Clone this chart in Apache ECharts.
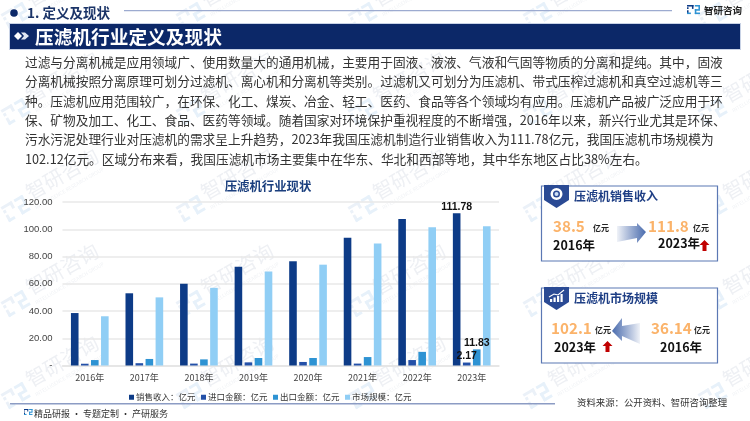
<!DOCTYPE html>
<html><head><meta charset="utf-8">
<style>html,body{margin:0;padding:0;background:#fff}#c{width:750px;height:421px}</style>
<script src="https://cdn.jsdelivr.net/npm/echarts@6/dist/echarts.min.js"></script>
</head><body><div id="c"></div>
<script>
const categories=['2016年','2017年','2018年','2019年','2020年','2021年','2022年','2023年'];
const salesRevenue=[38.5,53,60,72.5,76.5,93.8,107.5,111.78];
const importAmount=[1.3,1.7,1.4,2.3,2.6,1.4,4,2.17];
const exportAmount=[4,4.8,4.5,5.5,5.5,6.2,10,11.83];
const marketSize=[36.14,50,57,69,74,89.5,101.5,102.12];
const seriesNames=['销售收入：亿元','进口金额：亿元','出口金额：亿元','市场规模：亿元'];
const seriesColors=['#0d3b87','#2350a8','#2e93d3','#90cef5'];
const bodyLines=[
'过滤与分离机械是应用领域广、使用数量大的通用机械，主要用于固液、液液、气液和气固等物质的分离和提纯。其中，固液',
'分离机械按照分离原理可划分过滤机、离心机和分离机等类别。过滤机又可划分为压滤机、带式压榨过滤机和真空过滤机等三',
'种。压滤机应用范围较广，在环保、化工、煤炭、冶金、轻工、医药、食品等各个领域均有应用。压滤机产品被广泛应用于环',
'保、矿物及加工、化工、食品、医药等领域。随着国家对环境保护重视程度的不断增强，2016年以来，新兴行业尤其是环保、',
'污水污泥处理行业对压滤机的需求呈上升趋势，2023年我国压滤机制造行业销售收入为111.78亿元，我国压滤机市场规模为',
'102.12亿元。区域分布来看，我国压滤机市场主要集中在华东、华北和西部等地，其中华东地区占比38%左右。'];
const F='"Noto Sans CJK SC","Noto Sans",sans-serif';
const g=[];
function T(x,y,s,size,color,weight,align,extra){g.push(Object.assign({type:'text',x,y,silent:true,style:{text:s,font:(weight||'normal')+' '+size+'px '+F,fill:color,textAlign:align||'left',textVerticalAlign:'middle'}},extra||{}));}
function R(x,y,w,h,fill,stroke,lw,z){g.push({type:'rect',shape:{x,y,width:w,height:h},silent:true,z:z||0,style:{fill:fill||'none',stroke:stroke||null,lineWidth:lw||0}});}
function P(points,fill,z){g.push({type:'polygon',shape:{points},silent:true,z:z||1,style:{fill}});}
function logoChildren(s,c1,c2){
  const b=(x,y,w,h,f)=>({type:'rect',shape:{x:x*s,y:y*s,width:w*s,height:h*s},style:{fill:f}});
  return [b(0,0,5,1.2,c1),b(3.8,0,1.2,3,c1),b(0,1.8,1.2,1.2,c1),b(0,4,1.2,3,c1),b(0,5.8,3,1.2,c2),
          b(6,0,4,1.2,c2),b(8.8,0,1.2,3.4,c2),b(6,3.2,4,1.2,c2),b(6,3.2,1.2,3.8,c2),b(6,5.8,4,1.2,c2)];
}
// watermark tiles: logo anchors on a regular grid
const wmColumns=[5,180,352,527,702];
const wmRows=[22,118,215,310,402];
wmRows.forEach(y=>wmColumns.forEach(x=>{
  g.push({type:'group',x,y,rotation:Math.PI/6,silent:true,z:-1,children:[
    {type:'group',x:0,y:-9,children:logoChildren(2.5,'#ebf1f8','#e7f1fa')},
    {type:'text',x:30,y:-7,style:{text:'智研咨询',font:'normal 20px '+F,fill:'#eef0f4',textVerticalAlign:'middle'}},
    {type:'text',x:30,y:9,style:{text:'INTELLIGENCE RESEARCH GROUP',font:'normal 5px '+F,fill:'#f0f2f5',textVerticalAlign:'middle'}}
  ]});
}));
// header
g.push({type:'circle',shape:{cx:14,cy:13,r:3.8},silent:true,style:{fill:'#0c2868'}});
T(27,13,'1. 定义及现状',13.5,'#1b3468','bold');
R(124,10,548,1.3,'#9dabd0');
g.push({type:'group',x:687,y:5,silent:true,children:logoChildren(1.3,'#0d3b87','#2e93d3')});
T(723,10.5,'智研咨询',9.5,'#222','bold','center');
R(9.5,23.5,731,26,'#0c2868','#c9d3e6',1);
P([[14,36],[18,32],[22,36],[18,40]],'#fff');P([[21,32.5],[25,32.5],[29,36],[25,39.5],[21,39.5],[24,36]],'#dfe6f2');
T(35,36.5,'压滤机行业定义及现状',18.7,'#fff','bold');
// body
bodyLines.forEach((s,i)=>T(25,62+i*19.4,s,12.7,'#333'));
// panels
function panel(y,title){
  R(541.5,y,176,75,'#fff','#5b78b4',1.2,1);
  P([[544,y-1],[569,y-1],[569,y+14],[556.5,y+22],[544,y+14]],'#2a4a94',2);
  T(574,y+10.5,title,12,'#1f3f85','bold','left',{z:3});
}
panel(186,'压滤机销售收入');panel(288,'压滤机市场规模');
g.push({type:'ring',shape:{cx:556.5,cy:194,r:6,r0:3.5},silent:true,z:3,style:{fill:'#fff'}});
g.push({type:'circle',shape:{cx:556.5,cy:194,r:2},silent:true,z:3,style:{fill:'#cfe0f5'}});
[[550,299,2.2,3],[553.5,297.5,2.2,4.5],[557,296,2.2,6],[560.5,294,2.2,8]].forEach(a=>{g.push({type:'rect',shape:{x:a[0],y:a[1],width:a[2],height:a[3]},silent:true,z:3,style:{fill:'#fff'}});});
g.push({type:'polyline',shape:{points:[[549,297],[554,294],[558,295],[564,290]]},silent:true,z:3,style:{stroke:'#fff',lineWidth:1.1,fill:'none'}});
const OR='#fbb36a';
function vals(x,y,s){T(x,y,s,15.2,OR,'bold','left',{z:3});}
function unit(x,y){T(x,y,'亿元',8,'#222','bold','left',{z:3});}
function yr(x,y,s){T(x,y,s,12.5,'#111','bold','left',{z:3});}
vals(553,226,'38.5');unit(593,228);yr(553,245,'2016年');
vals(648,226,'111.8');unit(693,228);yr(658,243,'2023年');
vals(551,328,'102.1');unit(595,330);yr(554,347,'2023年');
vals(651,328,'36.14');unit(694,330);yr(660,347,'2016年');
const gradR={type:'linear',x:0,y:0,x2:1,y2:0,colorStops:[{offset:0,color:'rgba(60,95,165,0.08)'},{offset:1,color:'#4a6cae'}]};
const gradL={type:'linear',x:1,y:0,x2:0,y2:0,colorStops:[{offset:0,color:'rgba(60,95,165,0.08)'},{offset:1,color:'#4a6cae'}]};
P([[617,226],[637,226],[637,223],[646,232],[637,243],[637,238],[617,242]],gradR,3);
P([[640,323],[622,326],[622,318],[612,331],[622,341],[622,336],[640,344]],gradL,3);
const red='#c00000';
function up(x,y){P([[x,y+5],[x+5,y],[x+10,y+5],[x+7,y+5],[x+7,y+11],[x+3,y+11],[x+3,y+5]],red,3);}
up(699.5,240);up(602.5,341);
// footer
R(10,403,545,1.5,'#8c9cc4');
g.push({type:'group',x:24,y:409,silent:true,children:logoChildren(0.85,'#0d3b87','#2e93d3')});
T(34,414,'精品研报 · 专题定制 · 产研服务',9,'#333');
T(577,402,'资料来源：公开资料、智研咨询整理',9.4,'#333');

const lastLabel=()=>({show:true,position:'top',distance:1,fontFamily:'Liberation Sans,Arial,sans-serif',fontSize:10.5,fontWeight:'bold',color:'#111',
  formatter:p=>p.dataIndex===categories.length-1?p.value.toFixed(2):''});
const chart=echarts.init(document.getElementById('c'),null,{renderer:'canvas'});
chart.setOption({
  animation:false,backgroundColor:'#fff',
  title:{text:'压滤机行业现状',left:263,top:175,textAlign:'center',textStyle:{fontFamily:F,fontSize:12.4,fontWeight:'bold',color:'#1b3f7e'}},
  grid:{left:62.5,right:251,top:202,height:163.5,containLabel:false},
  legend:{top:388,left:124,itemWidth:5,itemHeight:5,itemGap:5.5,icon:'rect',textStyle:{fontFamily:F,fontSize:8.5,color:'#333',padding:[0,0,0,-3]}},
  xAxis:{type:'category',data:categories,axisLine:{lineStyle:{color:'#e3e3e3',width:1.5}},axisTick:{show:false},axisLabel:{fontFamily:F,fontSize:9,color:'#444',margin:8}},
  yAxis:{type:'value',min:0,max:120,interval:20,axisLine:{show:false},axisTick:{show:false},splitLine:{lineStyle:{color:'#e8e8e8',width:1.5}},
    axisLabel:{fontFamily:'Liberation Sans,Arial,sans-serif',fontSize:9.5,color:'#444',margin:10,formatter:v=>v===0?'-':v.toFixed(2)}},
  series:[salesRevenue,importAmount,exportAmount,marketSize].map((d,i)=>({
    type:'bar',name:seriesNames[i],data:d,barWidth:7.6,barGap:'32%',z:5,
    itemStyle:{color:seriesColors[i]},
    label:i===3?{show:false}:lastLabel()
  })),
  color:seriesColors,
  graphic:{elements:g}
});
</script></body></html>
